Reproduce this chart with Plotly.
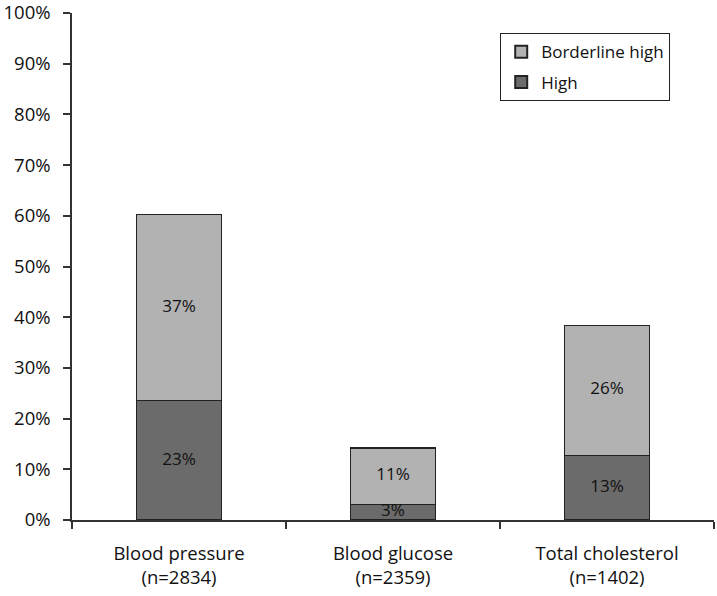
import plotly.graph_objects as go

categories = ["Blood pressure<br>(n=2834)", "Blood glucose<br>(n=2359)", "Total cholesterol<br>(n=1402)"]
high = [23.5, 3.1, 12.8]
borderline = [36.8, 11.1, 25.6]
high_labels = ["23%", "3%", "13%"]
borderline_labels = ["37%", "11%", "26%"]
y_ticks = [0, 10, 20, 30, 40, 50, 60, 70, 80, 90, 100]

FONT = "Open Sans"
line = dict(color="#222222", width=1.2)

fig = go.Figure()
fig.add_trace(go.Bar(x=categories, y=high, name="High", marker=dict(color="#6b6b6b", line=line),
                     width=0.4, hoverinfo="skip", legendgroup="h", legendrank=2))
fig.add_trace(go.Bar(x=categories, y=borderline, name="Borderline high", marker=dict(color="#b2b2b2", line=line),
                     width=0.4, hoverinfo="skip", legendgroup="b", legendrank=1))

mid_high = [h / 2 for h in high]
mid_border = [h + b / 2 for h, b in zip(high, borderline)]
fig.add_trace(go.Scatter(x=categories + categories, y=mid_high + mid_border, mode="text",
                         text=high_labels + borderline_labels, textposition="middle center",
                         textfont=dict(family=FONT, size=17, color="#111111"),
                         showlegend=False, hoverinfo="skip", cliponaxis=False))

fig.update_layout(
    barmode="stack",
    width=717, height=596,
    margin=dict(l=72, r=3, t=13, b=76),
    plot_bgcolor="white", paper_bgcolor="white",
    font=dict(family=FONT, size=18, color="#111111"),
    legend=dict(x=0.667, y=0.96, xanchor="left", yanchor="top", traceorder="grouped",
                bordercolor="#222222", borderwidth=1, bgcolor="white",
                font=dict(family=FONT, size=17, color="#111111"),
                itemsizing="constant", tracegroupgap=5),
    showlegend=True,
)
fig.update_xaxes(showline=True, linecolor="#333333", linewidth=1.5, ticks="outside", tickson="boundaries",
                 ticklen=7, tickcolor="#333333", tickwidth=1.5, showgrid=False, range=[-0.5, 2.5],
                 automargin=False, ticklabelstandoff=16,
                 tickfont=dict(family=FONT, size=18.5, color="#111111"))
fig.update_yaxes(showline=True, linecolor="#333333", linewidth=1.5, ticks="outside", ticklen=7,
                 tickcolor="#333333", tickwidth=1.5, showgrid=False, range=[0, 100],
                 tickvals=y_ticks, ticktext=[f"{v}%" for v in y_ticks], zeroline=False,
                 automargin=False, ticklabeloverflow="allow", ticklabelstandoff=9,
                 tickfont=dict(family=FONT, size=18.5, color="#111111"))

fig.write_html("out.html", config={"displayModeBar": False},
               post_script="document.body.style.margin='0';")
